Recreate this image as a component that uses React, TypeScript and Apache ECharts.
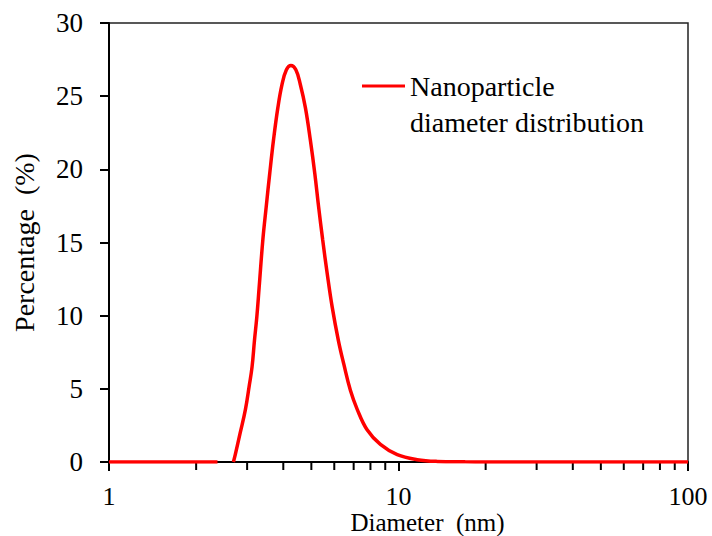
import React, { useEffect, useRef } from "react";
import * as echarts from "echarts";

// Particle size distribution (diameter in nm, log scale) vs percentage
const diameters: number[] = [
  1, 1.5, 2, 2.37, 2.5,
  2.69, 2.73, 2.84, 2.96, 3.05, 3.12, 3.18, 3.24, 3.3, 3.4, 3.49, 3.59, 3.7,
  3.83, 3.96, 4.1, 4.25, 4.42, 4.58, 4.77, 4.96, 5.14, 5.3, 5.47, 5.67, 5.9,
  6.2, 6.47, 6.82, 7.2, 7.79, 8.66, 9.9, 11.6, 13.6, 17, 20, 30, 50, 100,
];
const percentages: (number | null)[] = [
  0, 0, 0, 0, null,
  0, 0.5, 2.0, 3.6, 5.2, 6.5, 8.3, 9.9, 11.9, 15.2, 17.4, 19.7, 22.0,
  24.2, 25.8, 26.8, 27.1, 26.8, 25.8, 24.2, 22.0, 19.7, 17.4, 15.2, 12.9, 10.6,
  8.3, 6.7, 4.9, 3.6, 2.2, 1.2, 0.5, 0.16, 0.04, 0.01, 0, 0, 0, 0,
];

// Log-axis minor ticks (2..9, 20..90)
const minorTicks: number[] = [2, 3, 4, 5, 6, 7, 8, 9, 20, 30, 40, 50, 60, 70, 80, 90];

const seriesName = "Nanoparticle diameter distribution";
const legendLines: string[] = ["Nanoparticle", "diameter distribution"];

const FONT = "'Liberation Serif', 'Times New Roman', serif";

export default function App() {
  const ref = useRef<HTMLDivElement>(null);

  useEffect(() => {
    if (!ref.current) return;
    const chart = echarts.init(ref.current, undefined, { renderer: "svg" });

    const lineData = diameters.map((d, i) =>
      percentages[i] === null ? [d, "-"] : [d, percentages[i]]
    );

    chart.setOption({
      animation: false,
      backgroundColor: "#ffffff",
      textStyle: { fontFamily: FONT, color: "#000" },
      grid: {
        left: 109,
        right: 24,
        top: 23,
        bottom: 74,
        outerBoundsMode: "none",
        show: true,
        borderColor: "#222",
        borderWidth: 1.5,
        backgroundColor: "transparent",
      },
      legend: {
        data: [seriesName],
        left: 362,
        top: 32,
        padding: 0,
        icon: "rect",
        itemWidth: 43,
        itemHeight: 3,
        itemGap: 0,
        itemStyle: { color: "#ff0000", borderWidth: 0 },
        formatter: () => "\n" + legendLines.join("\n"),
        textStyle: {
          fontFamily: FONT,
          fontSize: 28,
          lineHeight: 36,
          color: "#000",
        },
      },
      xAxis: {
        type: "log",
        logBase: 10,
        min: 1,
        max: 100,
        name: "Diameter  (nm)",
        nameLocation: "middle",
        nameGap: 48,
        nameMoveOverlap: false,
        nameTextStyle: {
          fontFamily: FONT,
          fontSize: 25,
          color: "#000",
          padding: [0, 0, 0, 58],
        },
        axisLine: { show: true, lineStyle: { color: "#000", width: 2 } },
        axisTick: { show: true, inside: false, length: 9, lineStyle: { color: "#000", width: 2 } },
        axisLabel: {
          fontFamily: FONT,
          fontSize: 26,
          color: "#000",
          margin: 21,
          formatter: (v: number) => String(Math.round(v)),
        },
        splitLine: { show: false },
        minorTick: { show: false },
      },
      yAxis: {
        type: "value",
        min: 0,
        max: 30,
        interval: 5,
        name: "Percentage  (%)",
        nameLocation: "middle",
        nameRotate: 90,
        nameGap: 71,
        nameMoveOverlap: false,
        nameTextStyle: { fontFamily: FONT, fontSize: 28, color: "#000" },
        axisLine: { show: true, lineStyle: { color: "#000", width: 2 } },
        axisTick: { show: true, inside: false, length: 9, lineStyle: { color: "#000", width: 2 } },
        axisLabel: { fontFamily: FONT, fontSize: 27, color: "#000", margin: 26 },
        splitLine: { show: false },
      },
      series: [
        {
          type: "custom",
          name: "minor ticks",
          coordinateSystem: "cartesian2d",
          clip: false,
          silent: true,
          z: 1,
          data: minorTicks.map((v) => [v, 0]),
          renderItem: (params: any, api: any) => {
            const p = api.coord([api.value(0), 0]);
            return {
              type: "line",
              shape: { x1: p[0], y1: p[1], x2: p[0], y2: p[1] + 8 },
              style: { stroke: "#000", lineWidth: 2 },
            };
          },
        },
        {
          type: "line",
          name: seriesName,
          data: lineData,
          smooth: 0.4,
          connectNulls: false,
          symbol: "none",
          showSymbol: false,
          z: 3,
          lineStyle: { color: "#ff0000", width: 3.5 },
          itemStyle: { color: "#ff0000" },
        },
      ],
    });

    return () => chart.dispose();
  }, []);

  return (
    <div
      ref={ref}
      style={{ position: "fixed", left: 0, top: 0, width: 712, height: 536, background: "#fff" }}
    />
  );
}
